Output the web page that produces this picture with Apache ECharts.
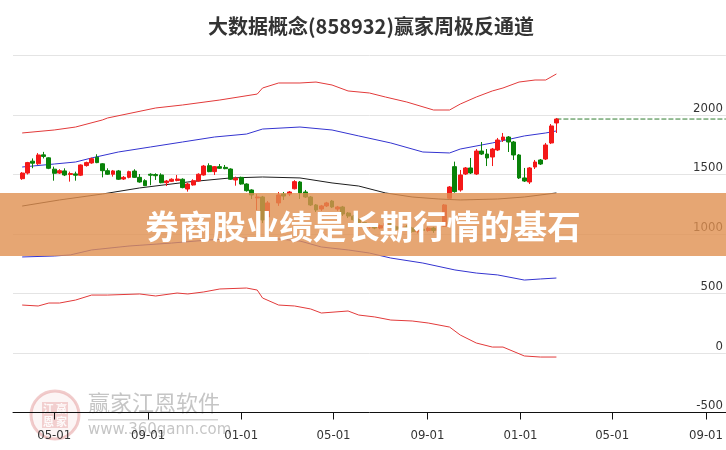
<!DOCTYPE html>
<html><head><meta charset="utf-8">
<script src="https://cdn.jsdelivr.net/npm/echarts@6/dist/echarts.min.js"></script>
<style>html,body{margin:0;padding:0;background:#fff}#c{width:726px;height:450px}</style>
</head><body><div id="c"></div>
<script>
const TITLE = '大数据概念(858932)赢家周极反通道';
const BANNER = '券商股业绩是长期行情的基石';
const START_WEEK = '2023-03-20';
const CLOSED_WEEKS = ['2024-02-12'];
const X_MIN = '2023-03-08', X_MAX = '2025-09-27';
const TICK_DATES = ['2023-05-01','2023-09-01','2024-01-01','2024-05-01','2024-09-01','2025-01-01','2025-05-01','2025-09-01'];
const Y_MIN = -500, Y_MAX = 2500, Y_STEP = 500;

const opens  = [1465,1512,1612,1590,1665,1640,1545,1512,1530,1500,1505,1494,1575,1597,1645,1590,1532,1502,1530,1462,1476,1529,1476,1448,1502,1500,1496,1431,1443,1450,1460,1378,1412,1445,1496,1574,1524,1566,1560,1546,1454,1476,1420,1370,1303,1311,1143,1261,1336,1336,1380,1437,1353,1311,1244,1210,1236,1277,1210,1227,1176,1150,1120,1095,1060,1075,1050,1070,1090,1060,1040,1060,1050,1020,1040,1030,1050,1030,1065,1300,1566,1370,1504,1555,1504,1697,1672,1647,1706,1790,1815,1773,1664,1471,1437,1563,1622,1630,1765,1933];
const closes = [1512,1600,1595,1664,1652,1552,1510,1532,1496,1508,1494,1580,1600,1633,1600,1532,1502,1530,1460,1476,1524,1476,1437,1406,1494,1490,1431,1445,1460,1462,1390,1420,1448,1502,1571,1524,1566,1552,1549,1460,1468,1420,1364,1328,1311,1118,1261,1328,1319,1353,1440,1345,1311,1244,1202,1236,1261,1227,1227,1168,1151,1120,1095,1060,1075,1050,1070,1090,1060,1040,1060,1050,1020,1040,1030,1050,1030,1060,1244,1395,1356,1496,1555,1513,1697,1672,1639,1714,1790,1815,1773,1664,1471,1445,1555,1605,1588,1748,1908,1966];
const lows   = [1455,1500,1553,1580,1635,1545,1448,1504,1487,1440,1448,1487,1566,1590,1595,1476,1496,1482,1454,1454,1468,1471,1431,1403,1410,1454,1426,1403,1437,1443,1384,1356,1406,1440,1490,1519,1496,1546,1544,1454,1406,1414,1356,1294,1200,1092,1100,1236,1286,1319,1375,1294,1303,1236,1185,1194,1227,1218,1194,1151,1134,1105,1080,1050,1045,1040,1040,1060,1050,1030,1025,1040,1010,1005,1020,1020,1010,1000,1060,1290,1347,1356,1496,1504,1496,1664,1571,1571,1697,1773,1689,1622,1462,1437,1420,1546,1580,1622,1756,1849];
const highs  = [1520,1606,1635,1680,1690,1645,1566,1545,1552,1524,1524,1585,1608,1642,1670,1595,1552,1538,1538,1487,1532,1544,1504,1460,1510,1510,1510,1454,1468,1496,1468,1431,1460,1510,1580,1594,1571,1588,1580,1552,1482,1482,1426,1376,1336,1320,1277,1353,1353,1361,1452,1445,1370,1319,1252,1244,1270,1286,1236,1236,1185,1160,1130,1100,1085,1085,1080,1100,1100,1070,1070,1075,1060,1050,1055,1060,1060,1065,1252,1403,1608,1538,1563,1639,1714,1773,1714,1723,1807,1849,1823,1782,1672,1555,1563,1622,1630,1765,1924,1975];

// channel lines: [candle index, value]
const redUpper  = [[0,1849],[6,1874],[10,1899],[15,1958],[16,1975],[25,2059],[30,2084],[37,2126],[44,2176],[45,2227],[47,2269],[51,2269],[54,2277],[57,2252],[60,2202],[64,2185],[67,2151],[71,2109],[76,2042],[79,2042],[81,2092],[84,2151],[87,2202],[89,2227],[92,2277],[95,2294],[97,2294],[99,2345]];
const blueUpper = [[0,1563],[6,1588],[10,1605],[13,1639],[18,1689],[24,1731],[30,1773],[36,1815],[42,1840],[45,1882],[51,1899],[57,1874],[62,1824],[68,1765],[74,1689],[79,1681],[81,1714],[87,1765],[93,1824],[97,1849],[99,1866]];
const midLine   = [[0,1235],[7,1286],[15,1336],[22,1387],[31,1437],[39,1471],[45,1479],[51,1471],[57,1429],[62,1403],[67,1345],[72,1311],[77,1294],[81,1286],[88,1294],[93,1311],[99,1345]];
const blueLower = [[0,807],[6,815],[9,824],[13,866],[20,899],[28,924],[35,950],[42,966],[47,958],[51,941],[55,891],[60,866],[64,840],[68,798],[74,756],[80,698],[84,672],[88,656],[93,613],[96,622],[99,630]];
const redLower  = [[0,403],[3,395],[5,420],[7,420],[10,445],[13,487],[16,487],[22,496],[25,479],[29,504],[31,496],[34,513],[37,538],[42,546],[44,529],[45,462],[47,403],[50,395],[53,370],[55,336],[60,353],[62,319],[65,303],[68,277],[72,269],[75,252],[79,218],[81,151],[84,84],[87,50],[89,50],[93,-25],[96,-34],[99,-34]];

function ymd(t){const d=new Date(t);return d.getUTCFullYear()+'-'+String(d.getUTCMonth()+1).padStart(2,'0')+'-'+String(d.getUTCDate()).padStart(2,'0');}
function localTs(s){const p=s.split('-').map(Number);return new Date(p[0],p[1]-1,p[2]).getTime();}
// weekly dates (first trading day of each week)
const dates = [];
{
  const p = START_WEEK.split('-').map(Number);
  let t = Date.UTC(p[0], p[1]-1, p[2]);
  while (dates.length < opens.length) {
    const s = ymd(t);
    if (CLOSED_WEEKS.indexOf(s) < 0) dates.push(s);
    t += 7*86400000;
  }
}
const times = dates.map(localTs);
const tickVals = TICK_DATES.map(localTs);
const xMin = localTs(X_MIN), xMax = localTs(X_MAX);
const candles = times.map((t,i)=>[t, opens[i], closes[i], lows[i], highs[i]]);
const toLine = arr => arr.map(([i,v]) => [times[i], v]);
const last = times.length-1;

const NARROW = '"Liberation Sans Narrow","Arial Narrow","DejaVu Sans Condensed",sans-serif';
const CJK = '"Noto Sans CJK SC","Noto Sans",sans-serif';
const pad2 = n => String(n).padStart(2,'0');

const chart = echarts.init(document.getElementById('c'), null, {renderer:'canvas'});
const lineSeries = (data, color) => ({type:'line', data: toLine(data), symbol:'none', silent:true, lineStyle:{color, width:1}, z:3});
chart.setOption({
  animation:false,
  title:{text:TITLE, left:366, top:11, textAlign:'center', textStyle:{fontFamily:CJK, fontSize:20, fontWeight:'bold', color:'#333'}},
  grid:{left:13, right:0, top:55.5, bottom:37.5},
  xAxis:{type:'value', min:xMin, max:xMax, scale:true,
    splitLine:{show:false},
    axisLine:{onZero:false, lineStyle:{color:'#111', width:1}},
    axisTick:{customValues:tickVals, length:7, lineStyle:{color:'#111'}},
    axisLabel:{customValues:tickVals, margin:17, color:'#333', fontSize:13, fontFamily:NARROW,
      formatter:v=>{const d=new Date(v);return pad2(d.getMonth()+1)+'-'+pad2(d.getDate());}}},
  yAxis:{type:'value', position:'right', min:Y_MIN, max:Y_MAX, interval:Y_STEP,
    axisLine:{show:false}, axisTick:{show:false},
    axisLabel:{inside:true, showMaxLabel:false, verticalAlign:'bottom', margin:3, color:'#333', fontSize:13, fontFamily:NARROW,
      formatter:v=>String(v)},
    splitLine:{lineStyle:{color:'#e4e4e4', width:1}}},
  series:[
    lineSeries(redUpper,'#e23a3a'),
    lineSeries(blueUpper,'#3434d0'),
    lineSeries(midLine,'#1e1e1e'),
    lineSeries(blueLower,'#3434d0'),
    lineSeries(redLower,'#e23a3a'),
    {type:'line', data:[[times[last], closes[last]],[xMax, closes[last]]], symbol:'none', silent:true,
      lineStyle:{color:'#2f7d2f', width:1, type:[5,2]}, z:3},
    {type:'candlestick', data:candles, barWidth:4.4, z:4,
      itemStyle:{color:'#f41818', color0:'#098209', borderColor:'#f41818', borderColor0:'#098209', borderWidth:1}}
  ],
  graphic:[
    {type:'circle', z:0, shape:{cx:55, cy:415, r:24}, style:{fill:'rgba(240,200,200,0.18)', stroke:'rgba(215,110,110,0.35)', lineWidth:3}},
    {type:'rect', z:0, shape:{x:42, y:402, width:26, height:26}, style:{fill:'rgba(220,120,120,0.30)'}},
    {type:'text', z:0, style:{text:'江', x:48.5, y:408.5, fill:'rgba(255,255,255,0.9)', fontSize:11, fontFamily:CJK, fontWeight:'bold', align:'center', verticalAlign:'middle'}},
    {type:'text', z:0, style:{text:'赢', x:61.5, y:408.5, fill:'rgba(255,255,255,0.9)', fontSize:11, fontFamily:CJK, fontWeight:'bold', align:'center', verticalAlign:'middle'}},
    {type:'text', z:0, style:{text:'恩', x:48.5, y:421.5, fill:'rgba(255,255,255,0.9)', fontSize:11, fontFamily:CJK, fontWeight:'bold', align:'center', verticalAlign:'middle'}},
    {type:'text', z:0, style:{text:'家', x:61.5, y:421.5, fill:'rgba(255,255,255,0.9)', fontSize:11, fontFamily:CJK, fontWeight:'bold', align:'center', verticalAlign:'middle'}},
    {type:'text', z:0, style:{text:'赢家江恩软件', x:88, y:403, fill:'rgba(150,150,150,0.55)', fontSize:22, fontFamily:CJK, align:'left', verticalAlign:'middle'}},
    {type:'rect', z:0, shape:{x:88, y:419, width:130, height:1.5}, style:{fill:'rgba(160,160,160,0.45)'}},
    {type:'text', z:0, style:{text:'www.360gann.com', x:88, y:430, fill:'rgba(150,150,150,0.55)', fontSize:15, fontFamily:'"DejaVu Sans","Noto Sans",sans-serif', align:'left', verticalAlign:'middle'}},
    {type:'rect', z:100, shape:{x:0, y:193, width:726, height:63}, style:{fill:'rgba(224,144,80,0.8)'}},
    {type:'text', z:101, style:{text:BANNER, x:363, y:226, fill:'#ffffff', fontSize:33.5, fontWeight:'bold', fontFamily:CJK, align:'center', verticalAlign:'middle', shadowColor:'rgba(120,60,20,0.35)', shadowBlur:2}}
  ]
});
</script></body></html>
